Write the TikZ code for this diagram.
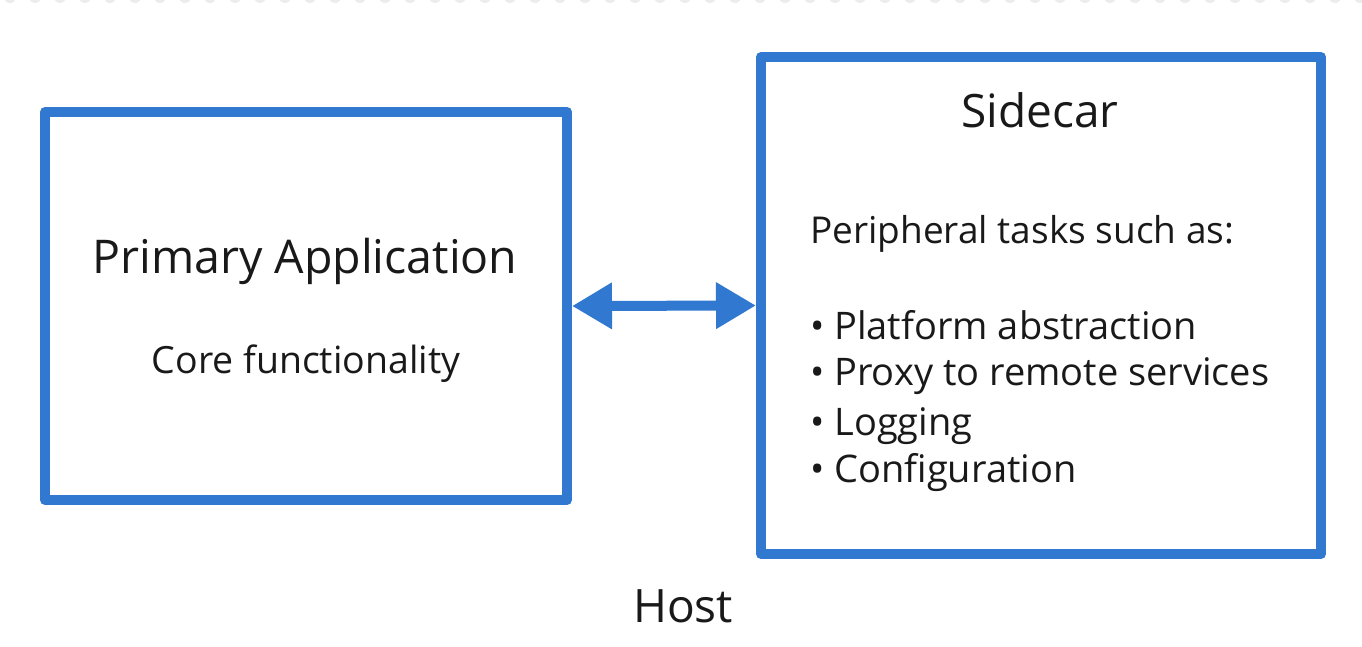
\documentclass[tikz,border=0pt]{standalone}
\usepackage{fontspec}
\setmainfont{Open Sans}
\usetikzlibrary{arrows.meta}
\definecolor{hostblue}{RGB}{48,120,208}
\definecolor{dotgray}{RGB}{236,236,236}
\tikzset{
  box/.style={draw=hostblue, line width=10pt, line join=round, inner sep=0pt},
  label/.style={anchor=base, inner sep=0pt, text=black!90},
  leftlabel/.style={anchor=base west, inner sep=0pt, text=black!90},
  link/.style={draw=hostblue, line width=10pt,
    {Triangle[length=40pt,width=44pt]}-{Triangle[length=40pt,width=44pt]}},
}
\begin{document}
\begin{tikzpicture}[x=1pt, y=-1pt]
  \useasboundingbox (0,0) rectangle (1362,646);

  % dotted host boundary along the top edge
  \draw[dotgray, line width=12pt, line cap=round, dash pattern=on 0pt off 25pt]
    (10,-3) -- (1362,-3);

  % the two containers
  \node[box, minimum width=522pt, minimum height=388pt] (primary) at (306,306) {};
  \node[box, minimum width=560pt, minimum height=497pt] (sidecar) at (1041,305.5) {};

  % two-way link between them
  \draw[link] (primary.east) -- (sidecar.west);

  % primary application texts
  \node[label, font=\fontsize{46.5}{50}\selectfont] (ptitle) at (305,273) {Primary Application};
  \node[label, font=\fontsize{37.5}{42}\selectfont] (psub) at (306,373) {Core functionality};

  % sidecar texts
  \node[label, font=\fontsize{46}{50}\selectfont] (stitle) at (1040,127) {Sidecar};
  \node[leftlabel, font=\fontsize{37}{40}\selectfont] (sintro) at (810,243) {Peripheral tasks such as:};
  \node[leftlabel, font=\fontsize{38}{40}\selectfont] (s1) at (810,339) {• Platform abstraction};
  \node[leftlabel, font=\fontsize{38}{40}\selectfont] (s2) at (810,385) {• Proxy to remote services};
  \node[leftlabel, font=\fontsize{38}{40}\selectfont] (s3) at (810,435) {• Logging};
  \node[leftlabel, font=\fontsize{38}{40}\selectfont] (s4) at (810,482) {• Configuration};

  % host caption
  \node[label, font=\fontsize{46}{50}\selectfont] (host) at (683,622) {Host};
\end{tikzpicture}
\end{document}
